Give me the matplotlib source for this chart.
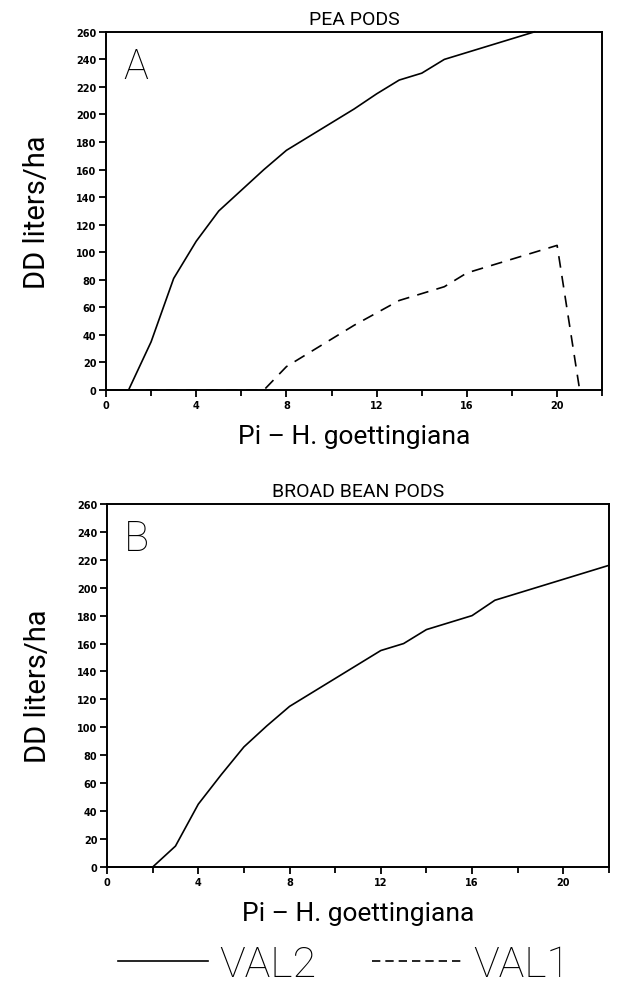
import numpy as np
import matplotlib
matplotlib.use("Agg")
import matplotlib.pyplot as plt
from matplotlib.lines import Line2D

# panel A - pea pods
pea_x_val2 = [0, 1, 2, 3, 4, 5, 6, 7, 8, 9, 10, 11, 12, 13, 14, 15, 16, 17, 18, 19]
pea_val2 = [0, 0, 35, 81, 108, 130, 145, 160, 174, 184, 194, 204, 215, 225, 230, 240, 245, 250, 255, 260]
pea_x_val1 = [0, 7, 8, 9, 10, 11, 12, 13, 14, 15, 16, 17, 18, 19, 20, 21]
pea_val1 = [0, 0, 17, 27, 37, 47, 56, 65, 70, 75, 85, 90, 95, 100, 105, 0]

# panel B - broad bean pods
bean_x_val2 = [0, 2, 3, 4, 5, 6, 7, 8, 9, 10, 11, 12, 13, 14, 15, 16, 17, 18, 19, 20, 21, 22]
bean_val2 = [0, 0, 15, 45, 66, 86, 101, 115, 125, 135, 145, 155, 160, 170, 175, 180, 191, 196, 201, 206, 211, 216]

yticks = list(range(0, 261, 20))
xticks = [0, 4, 8, 12, 16, 20]

FONT = "Roboto"

fig = plt.figure(figsize=(6.37, 9.95), dpi=100)
axA = fig.add_axes([0.1664, 0.607, 0.779, 0.360])
axB = fig.add_axes([0.168, 0.1276, 0.788, 0.365])


def style(ax, title, letter):
    ax.set_xlim(0, 22)
    ax.set_ylim(0, 260)
    ax.set_yticks(yticks)
    ax.set_xticks(xticks)
    ax.set_xticks(range(0, 23, 2), minor=True)
    ax.tick_params(axis="both", labelsize=7, width=1.3, length=5, pad=2)
    ax.tick_params(axis="x", which="minor", width=1.3, length=4)
    for lab in ax.get_xticklabels() + ax.get_yticklabels():
        lab.set_fontweight("bold")
    for sp in ax.spines.values():
        sp.set_linewidth(1.4)
    ax.set_title(title, fontsize=14, family=FONT, pad=6)
    ax.set_xlabel("Pi \u2013 H. goettingiana", fontsize=19, family=FONT, labelpad=10)
    ax.set_ylabel("DD liters/ha", fontsize=21, family=FONT, labelpad=18)
    ax.text(0.034, 0.96, letter, transform=ax.transAxes, fontsize=30,
            family=FONT, fontweight="light", va="top", ha="left")


axA.plot(pea_x_val2, pea_val2, color="black", lw=1.2, clip_on=False)
axA.plot(pea_x_val1, pea_val1, color="black", lw=1.2, ls=(0, (7, 5)))
style(axA, "PEA PODS", "A")

axB.plot(bean_x_val2, bean_val2, color="black", lw=1.2, clip_on=False)
style(axB, "BROAD BEAN PODS", "B")

handles = [Line2D([], [], color="black", lw=1.2),
           Line2D([], [], color="black", lw=1.2, ls=(0, (5, 3)))]
fig.legend(handles, ["VAL2", "VAL1"], loc="center", bbox_to_anchor=(0.54, 0.03),
           ncol=2, frameon=False, handlelength=2.1, handletextpad=0.25,
           columnspacing=1.3, prop={"family": FONT, "size": 31, "weight": "light"})

fig.savefig("out.png", dpi=100)
